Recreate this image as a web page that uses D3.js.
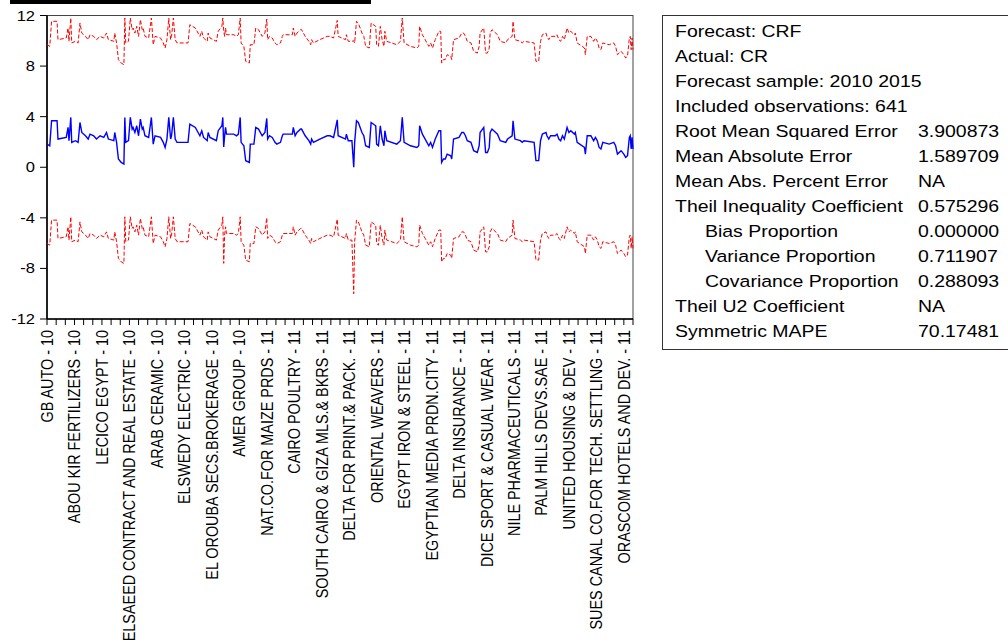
<!DOCTYPE html>
<html>
<head>
<meta charset="utf-8">
<script src="https://cdn.jsdelivr.net/npm/d3@7"></script>
<style>
  body { margin: 0; background: #fff; }
  svg { display: block; font-family: "Liberation Sans", Arial, sans-serif; }
</style>
</head>
<body>
<div id="chart"></div>
<script>
// observation index (0..640) and forecast CRF read at break points
const obsIdx = [0,3,5,11,12,21,23,24,26,27,31,34,36,38,42,45,47,51,54,58,62,65,67,73,74,76,78,81,84,85,86,89,91,93,94,96,98,100,102,104,105,107,111,114,116,118,124,127,129,131,133,135,136,138,140,142,154,156,162,165,167,169,171,175,176,178,185,187,191,192,193,194,195,196,204,207,209,211,212,215,217,221,222,226,228,231,235,238,240,241,243,246,249,251,255,257,258,268,269,271,273,277,278,282,286,288,289,291,298,306,309,313,317,318,326,327,329,333,335,336,338,340,344,346,348,352,354,359,360,362,364,366,368,369,371,382,386,388,390,397,404,406,407,410,413,417,419,421,424,428,430,431,433,435,437,441,442,444,450,453,455,457,459,463,466,470,472,473,477,479,481,483,484,486,492,495,501,503,508,509,511,517,519,521,532,534,537,539,541,545,546,548,550,555,557,559,561,563,565,568,570,572,576,577,579,587,588,590,594,597,599,601,603,605,607,614,619,621,623,627,630,632,634,636,637,638,639,640];
const crf = [1.83,1.70,3.68,3.68,2.23,2.36,3.15,2.10,3.94,1.97,2.10,1.97,3.54,2.75,2.49,2.23,2.62,2.49,2.23,2.49,2.36,2.75,2.23,2.10,2.75,1.97,0.65,0.38,0.25,3.94,1.97,2.10,3.94,3.02,3.15,2.75,3.28,2.49,3.81,3.02,3.15,2.49,2.36,3.94,1.83,2.49,2.36,1.97,1.57,2.23,3.94,2.23,2.49,3.94,2.23,1.97,1.97,3.41,3.15,2.75,2.49,2.89,2.36,2.10,2.75,2.36,2.10,2.89,3.28,3.94,1.60,2.49,3.15,2.62,2.62,2.49,2.62,3.94,1.97,1.70,0.52,0.38,1.83,1.83,3.15,3.02,2.49,2.75,3.86,2.23,2.49,2.36,1.97,1.83,1.97,2.49,2.62,2.62,3.15,2.49,2.75,3.02,3.02,2.49,2.10,1.83,2.23,1.97,2.23,2.49,2.49,2.36,3.75,2.49,2.23,2.62,2.10,2.10,0.00,1.97,3.68,3.54,2.75,2.49,1.70,1.57,3.54,3.28,1.83,1.70,3.28,2.23,1.70,2.89,2.10,1.83,2.10,3.94,1.97,1.70,1.57,1.70,3.28,2.62,2.23,1.70,1.97,1.57,2.23,2.89,2.89,0.38,0.65,0.65,1.04,0.91,0.65,2.23,2.36,2.75,2.75,2.49,2.10,1.97,1.31,1.17,1.70,2.75,3.15,1.17,1.17,1.57,2.75,3.02,2.62,2.10,1.97,2.23,2.49,3.68,2.23,2.10,1.97,2.10,1.97,0.52,0.52,2.10,2.62,2.75,2.49,2.23,2.49,2.49,2.62,2.23,2.10,2.49,2.23,3.15,2.75,2.89,2.62,2.75,1.97,1.57,1.04,2.49,2.49,2.10,2.36,2.10,1.57,1.44,1.97,1.83,1.97,1.70,1.04,1.31,1.04,0.78,0.91,2.36,2.49,1.44,2.36,1.44];

// forecast standard error (bands are CRF +/- 2 S.E.)
const seBase = 3.93;
const seObs = [193, 335];
const seVal = [4.6, 5.0];

const tickLabels = [
  "GB AUTO - 10", "ABOU KIR FERTILIZERS - 10", "LECICO EGYPT - 10",
  "ELSAEED CONTRACT AND REAL ESTATE - 10", "ARAB CERAMIC - 10", "ELSWEDY ELECTRIC - 10",
  "EL OROUBA SECS.BROKERAGE - 10", "AMER GROUP - 10", "NAT.CO.FOR MAIZE PRDS - 11",
  "CAIRO POULTRY - 11", "SOUTH CAIRO & GIZA MLS.& BKRS - 11", "DELTA FOR PRINT.& PACK. - 11",
  "ORIENTAL WEAVERS - 11", "EGYPT IRON & STEEL - 11", "EGYPTIAN MEDIA PRDN.CITY - 11",
  "DELTA INSURANCE - - 11", "DICE SPORT & CASUAL WEAR - 11", "NILE PHARMACEUTICALS - 11",
  "PALM HILLS DEVS.SAE - 11", "UNITED HOUSING & DEV - 11", "SUES CANAL CO.FOR TECH. SETTLING - 11",
  "ORASCOM HOTELS AND DEV. - 11"
];
const yTicks = [12, 8, 4, 0, -4, -8, -12];

const statLabels = ["Forecast: CRF", "Actual: CR", "Forecast sample: 2010 2015",
  "Included observations: 641", "Root Mean Squared Error", "Mean Absolute Error",
  "Mean Abs. Percent Error", "Theil Inequality Coefficient", "Bias Proportion",
  "Variance Proportion", "Covariance Proportion", "Theil U2 Coefficient", "Symmetric MAPE"];
const statValues = ["", "", "", "", "3.900873", "1.589709", "NA", "0.575296",
  "0.000000", "0.711907", "0.288093", "NA", "70.17481"];
const statIndent = [false, false, false, false, false, false, false, false, true, true, true, false, false];

const W = 1008, H = 643;
const svg = d3.select("#chart").append("svg").attr("width", W).attr("height", H);

// black strip at the top
svg.append("rect").attr("x", 10).attr("y", 0).attr("width", 361).attr("height", 4).attr("fill", "#000");

const margin = { left: 47, right: 633, top: 15.5, bottom: 319 };
const x = d3.scaleLinear().domain([0, 640]).range([margin.left, margin.right]);
const y = d3.scaleLinear().domain([-12, 12]).range([margin.bottom, margin.top]);

const rows = obsIdx.map((o, i) => {
  const k = seObs.indexOf(o);
  const se = k >= 0 ? seVal[k] : seBase;
  return { o: o, f: crf[i], up: crf[i] + 2 * se, lo: crf[i] - 2 * se };
});

// frame
svg.append("rect").attr("x", margin.left).attr("y", margin.top)
  .attr("width", margin.right - margin.left).attr("height", margin.bottom - margin.top)
  .attr("fill", "none").attr("stroke", "#444").attr("stroke-width", 1);

// y axis
const yAxis = svg.append("g").attr("transform", "translate(" + margin.left + ",0)");
yAxis.append("line").attr("y1", margin.top).attr("y2", margin.bottom).attr("stroke", "#000").attr("stroke-width", 1.6);
yTicks.forEach(t => {
  yAxis.append("line").attr("x1", -7).attr("x2", 0).attr("y1", y(t)).attr("y2", y(t)).attr("stroke", "#000");
  yAxis.append("text")
    .attr("transform", "translate(-12," + (y(t) + 5) + ") scale(1.18,1)")
    .attr("text-anchor", "end").attr("font-size", 14).text(t);
});

// x axis
const xAxis = svg.append("g");
xAxis.append("line").attr("x1", margin.left).attr("x2", margin.right)
  .attr("y1", margin.bottom).attr("y2", margin.bottom)
  .attr("stroke", "#000").attr("stroke-width", 1.6);
d3.range(0, 641, 10).forEach(t => {
  xAxis.append("line").attr("x1", x(t)).attr("x2", x(t))
    .attr("y1", margin.bottom).attr("y2", margin.bottom + 6).attr("stroke", "#000");
});
tickLabels.forEach((lab, i) => {
  xAxis.append("text")
    .attr("transform", "translate(" + (x(i * 30) + 6) + "," + (margin.bottom + 11) + ") rotate(-90) scale(1,1.18)")
    .attr("text-anchor", "end").attr("font-size", 14.4).text(lab);
});

// lines
const line = key => d3.line().x(d => x(d.o)).y(d => y(d[key]));
svg.append("path").datum(rows).attr("d", line("up")).attr("fill", "none")
  .attr("stroke", "#ff0000").attr("stroke-width", 1).attr("stroke-dasharray", "4,2");
svg.append("path").datum(rows).attr("d", line("lo")).attr("fill", "none")
  .attr("stroke", "#ff0000").attr("stroke-width", 1).attr("stroke-dasharray", "4,2");
svg.append("path").datum(rows).attr("d", line("f")).attr("fill", "none")
  .attr("stroke", "#0000ff").attr("stroke-width", 1.4);

// statistics box
svg.append("rect").attr("x", 662.5).attr("y", 15.5).attr("width", 380).attr("height", 334)
  .attr("fill", "none").attr("stroke", "#333").attr("stroke-width", 1);
statLabels.forEach((s, i) => {
  const ty = 37 + i * 25;
  svg.append("text")
    .attr("transform", "translate(" + (statIndent[i] ? 705 : 675) + "," + ty + ") scale(1.18,1)")
    .attr("font-size", 16.5).text(s);
  if (statValues[i]) {
    svg.append("text")
      .attr("transform", "translate(918," + ty + ") scale(1.18,1)")
      .attr("font-size", 16.5).text(statValues[i]);
  }
});
</script>
</body>
</html>
